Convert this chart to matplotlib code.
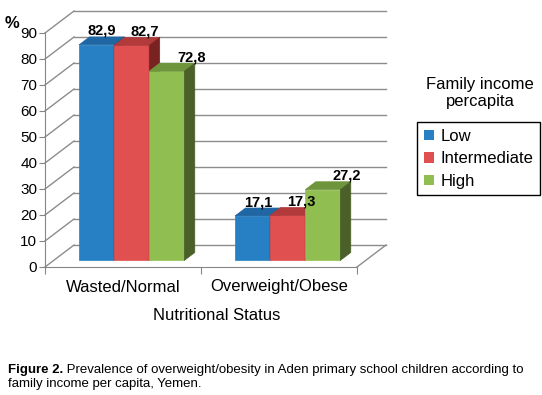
import matplotlib
matplotlib.use('Agg')
import matplotlib.pyplot as plt
from matplotlib.patches import Polygon, Patch

plt.rcParams['font.family'] = ['Liberation Sans', 'DejaVu Sans']

categories = ['Wasted/Normal', 'Overweight/Obese']
series = ['Low', 'Intermediate', 'High']
low = [82.9, 17.1]
intermediate = [82.7, 17.3]
high = [72.8, 27.2]
yticks = list(range(0, 100, 10))

front = ['#2680c3', '#e05050', '#91be50']
top = ['#1f66a3', '#b23a3a', '#6f953c']
side = ['#1a4f80', '#782222', '#4b6028']
grid = '#8c8c8c'

fig = plt.figure(figsize=(5.42, 3.95), dpi=100)
ax = fig.add_axes([45/542, 1-267/395, 312/542, 234/395])
ax.set_xlim(-0.5, 1.5)
ax.set_ylim(0, 90)
ax.patch.set_visible(False)

# depth of the fake 3d box: 29 px right, 22 px up
pts = ax.transData.transform([(0, 0), (1, 1)])
kx = 29 / (pts[1, 0] - pts[0, 0])
ky = 22 / (pts[1, 1] - pts[0, 1])

def p(x, y, d):
    return (x + d*kx, y + d*ky)

def seg(a, b, **kw):
    ax.plot([a[0], b[0]], [a[1], b[1]], clip_on=False, **kw)

# walls
for v in yticks:
    seg(p(-0.5, v, 0), p(-0.5, v, 1), color=grid, lw=1, zorder=1)
    seg(p(-0.5, v, 1), p(1.5, v, 1), color=grid, lw=1, zorder=1)
seg(p(1.5, 0, 0), p(1.5, 0, 1), color=grid, lw=1, zorder=1)

# bars
values = [low, intermediate, high]
w = 0.225
d0, d1 = 0.3, 0.66
label_dx = [-5, 3, 14]
for g in range(len(categories)):
    for s, vals in enumerate(values):
        v = vals[g]
        x0 = g + (s - 1)*w - w/2
        x1 = x0 + w
        faces = [
            ([p(x0, 0, d0), p(x1, 0, d0), p(x1, v, d0), p(x0, v, d0)], front[s]),
            ([p(x0, v, d0), p(x1, v, d0), p(x1, v, d1), p(x0, v, d1)], top[s]),
            ([p(x1, 0, d0), p(x1, 0, d1), p(x1, v, d1), p(x1, v, d0)], side[s]),
        ]
        for poly, c in faces:
            ax.add_patch(Polygon(poly, closed=True, fc=c, ec=c, lw=0.5,
                                 clip_on=False, zorder=3))
        tx, ty = p(x0 + w/2, v, d1)
        ax.annotate(f'{v:.1f}'.replace('.', ','), (tx, ty),
                    xytext=(label_dx[s], 2), textcoords='offset pixels',
                    ha='center', va='baseline', fontsize=10.5,
                    fontweight='bold', zorder=5, annotation_clip=False)

# axes
for sp in ['top', 'right']:
    ax.spines[sp].set_visible(False)
for sp in ['left', 'bottom']:
    ax.spines[sp].set_color('#868686')
ax.set_yticks(yticks)
ax.tick_params(axis='y', length=4, color='#868686', pad=1.5, labelsize=11)
ax.set_xticks([-0.5, 0.5, 1.5])
ax.set_xticklabels([])
ax.tick_params(axis='x', which='major', length=5, color='#868686')
ax.set_xticks([0, 1], minor=True)
ax.set_xticklabels(categories, minor=True)
ax.tick_params(axis='x', which='minor', length=0, pad=9, labelsize=12)

fig.text(12/542, 1-23/395, '%', fontsize=12, fontweight='bold',
         ha='center', va='center')
fig.text(217/542, 1-316/395, 'Nutritional Status', fontsize=12,
         ha='center', va='center')

# legend
handles = [Patch(fc=c, ec='none') for c in front]
leg = fig.legend(handles, series, loc='upper left',
                 bbox_to_anchor=(417/542, 1-122/395), borderaxespad=0,
                 fontsize=12, handlelength=0.6, handleheight=0.6,
                 handletextpad=0.4, borderpad=0.4, labelspacing=0.45,
                 fancybox=False, edgecolor='black', framealpha=1)
leg.get_frame().set_linewidth(1)
fig.text(480/542, 1-93/395, 'Family income\npercapita', fontsize=12,
         ha='center', va='center', linespacing=1.2)

# caption
r = fig.canvas.get_renderer()
t = fig.text(8/542, 1-370/395, 'Figure 2.', fontsize=9.5,
             fontweight='bold', va='center')
bb = t.get_window_extent(r)
fig.text(bb.x1/542, 1-370/395,
         ' Prevalence of overweight/obesity in Aden primary school children according to',
         fontsize=9.5, va='center')
fig.text(8/542, 1-384/395, 'family income per capita, Yemen.', fontsize=9.5,
         va='center')

fig.savefig('out.png', dpi=100)
